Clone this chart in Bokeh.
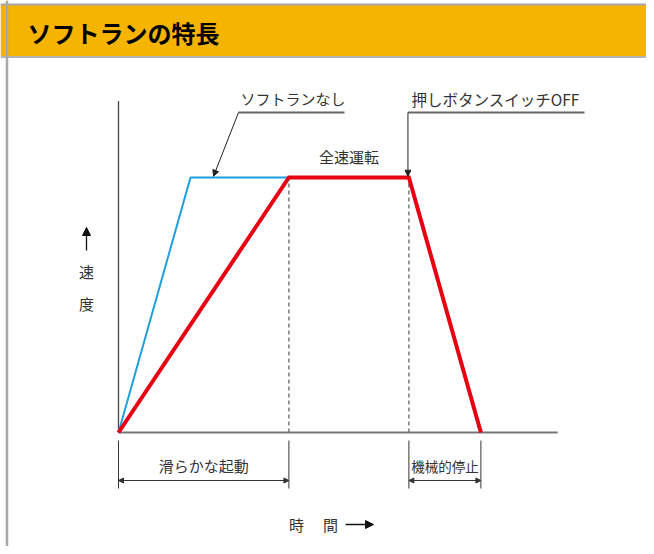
from bokeh.plotting import figure
from bokeh.models import Range1d, Arrow, NormalHead, BoxAnnotation, Span
from bokeh.core.properties import value
from bokeh.embed import file_html
from bokeh.resources import INLINE

# ---------------- data ----------------
title_text = "ソフトランの特長"
# without soft-run (blue): reaches full speed quickly
time_nosoft = [0, 3.0, 7.1]
speed_nosoft = [0, 100, 100]
# with soft-run (red)
time_soft = [0, 7.1, 12.1, 15.1]
speed_soft = [0, 100, 100, 0]
t_axis_end = 18.3
v_axis_end = 130
label_full = "全速運転"
label_nosoft = "ソフトランなし"
label_off = "押しボタンスイッチOFF"
label_start = "滑らかな起動"
label_stop = "機械的停止"
y_label_chars = ["速", "度"]
x_label_chars = ["時", "間"]

# ---------------- layout helpers (canvas px -> data) ----------------
ORG_X, ORG_Y = 118, 432
SX, SY = 24.0, 2.55
def tx(px):
    return (px - ORG_X) / SX
def vy(py):
    return (ORG_Y - py) / SY

FONT = value("Noto Sans CJK JP")
TXT = "#333333"

p = figure(width=646, height=546, output_backend="svg", toolbar_location=None,
           x_range=Range1d(tx(0), tx(646)), y_range=Range1d(vy(546), vy(0)),
           x_axis_location=None, y_axis_location=None, min_border=0)
p.grid.visible = False
p.outline_line_color = None
p.background_fill_color = "white"
p.border_fill_color = "white"

# header band and frame border
p.add_layout(BoxAnnotation(top=vy(4.5), bottom=vy(55.5), fill_color="#F5B400", fill_alpha=1,
                           line_color=None, level="underlay"))
p.add_layout(Span(location=vy(4), dimension="width", line_color="#A8A8A8", line_width=2))
p.add_layout(Span(location=vy(56.5), dimension="width", line_color="#B4B4B4", line_width=2))
p.add_layout(Span(location=tx(6.5), dimension="height", line_color="#A8A8A8", line_width=2.5))
p.text(x=[tx(27)], y=[vy(32)], text=[title_text], text_font=FONT, text_font_size="24px",
       text_font_style="bold", text_color="black", text_baseline="middle", text_align="left")

# axes
p.line([0, 0], [0, v_axis_end], line_color="#444444", line_width=1.3)
p.line([0, t_axis_end], [0, 0], line_color="#777777", line_width=2)

# dashed guides
for t in (time_soft[1], time_soft[2]):
    p.line([t, t], [0, speed_soft[1]], line_color="#666666", line_width=1.3, line_dash="4 3")

# profiles
p.line(time_nosoft, speed_nosoft, line_color="#1E9FDF", line_width=2)
p.line(time_soft, speed_soft, line_color="#E60012", line_width=4, line_join="miter")

# dimension lines
dim_top, dim_bot, dim_arrow = vy(440), vy(488), vy(480)
for t in (time_soft[0], time_soft[1], time_soft[2], time_soft[3]):
    p.line([t, t], [dim_top, dim_bot], line_color="#333333", line_width=1)
for a, b in ((time_soft[0], time_soft[1]), (time_soft[2], time_soft[3])):
    p.add_layout(Arrow(x_start=a, y_start=dim_arrow, x_end=b, y_end=dim_arrow,
                       line_color="#333333", line_width=1,
                       start=NormalHead(size=5, fill_color="#333333", line_color="#333333"),
                       end=NormalHead(size=5, fill_color="#333333", line_color="#333333")))
p.text(x=[(time_soft[0] + time_soft[1]) / 2], y=[vy(465)], text=[label_start], text_font=FONT,
       text_font_size="15px", text_color=TXT, text_align="center", text_baseline="middle")
p.text(x=[(time_soft[2] + time_soft[3]) / 2], y=[vy(465)], text=[label_stop], text_font=FONT,
       text_font_size="13.5px", text_color=TXT, text_align="center", text_baseline="middle")

# full speed label
p.text(x=[(time_soft[1] + time_soft[2]) / 2], y=[vy(156)], text=[label_full], text_font=FONT,
       text_font_size="15px", text_color=TXT, text_align="center", text_baseline="middle")

# leader: no soft-run
p.text(x=[tx(240)], y=[vy(98)], text=[label_nosoft], text_font=FONT, text_font_size="15px",
       text_color=TXT, text_align="left", text_baseline="middle")
p.line([tx(238), tx(344)], [vy(112), vy(112)], line_color="#666666", line_width=2)
p.add_layout(Arrow(x_start=tx(238), y_start=vy(112), x_end=tx(213), y_end=speed_nosoft[1] + 0.5,
                   line_color="#222222", line_width=1,
                   end=NormalHead(size=6, fill_color="#222222", line_color="#222222"),
                   start=None))

# leader: push-button OFF
p.text(x=[tx(411)], y=[vy(98)], text=[label_off], text_font=FONT, text_font_size="15.5px",
       text_color=TXT, text_align="left", text_baseline="middle")
p.line([time_soft[2] - 0.04, tx(584)], [vy(112), vy(112)], line_color="#666666", line_width=2)
p.add_layout(Arrow(x_start=time_soft[2] - 0.04, y_start=vy(112), x_end=time_soft[2] - 0.04,
                   y_end=speed_soft[2] + 0.5, line_color="#222222", line_width=1,
                   end=NormalHead(size=6, fill_color="#222222", line_color="#222222"),
                   start=None))

# y label
for ch, py in zip(y_label_chars, (271, 303)):
    p.text(x=[tx(86)], y=[vy(py)], text=[ch], text_font=FONT, text_font_size="15px",
           text_color=TXT, text_align="center", text_baseline="middle")
p.add_layout(Arrow(x_start=tx(86), y_start=vy(250), x_end=tx(86), y_end=vy(227),
                   line_color="#111111", line_width=1.3,
                   end=NormalHead(size=8, fill_color="#111111", line_color="#111111"), start=None))

# x label
for ch, px in zip(x_label_chars, (296, 330)):
    p.text(x=[tx(px)], y=[vy(524)], text=[ch], text_font=FONT, text_font_size="15px",
           text_color=TXT, text_align="center", text_baseline="middle")
p.add_layout(Arrow(x_start=tx(345), y_start=vy(524), x_end=tx(373), y_end=vy(524),
                   line_color="#111111", line_width=1.3,
                   end=NormalHead(size=8, fill_color="#111111", line_color="#111111"), start=None))

open("out.html", "w").write(file_html(p, INLINE))
